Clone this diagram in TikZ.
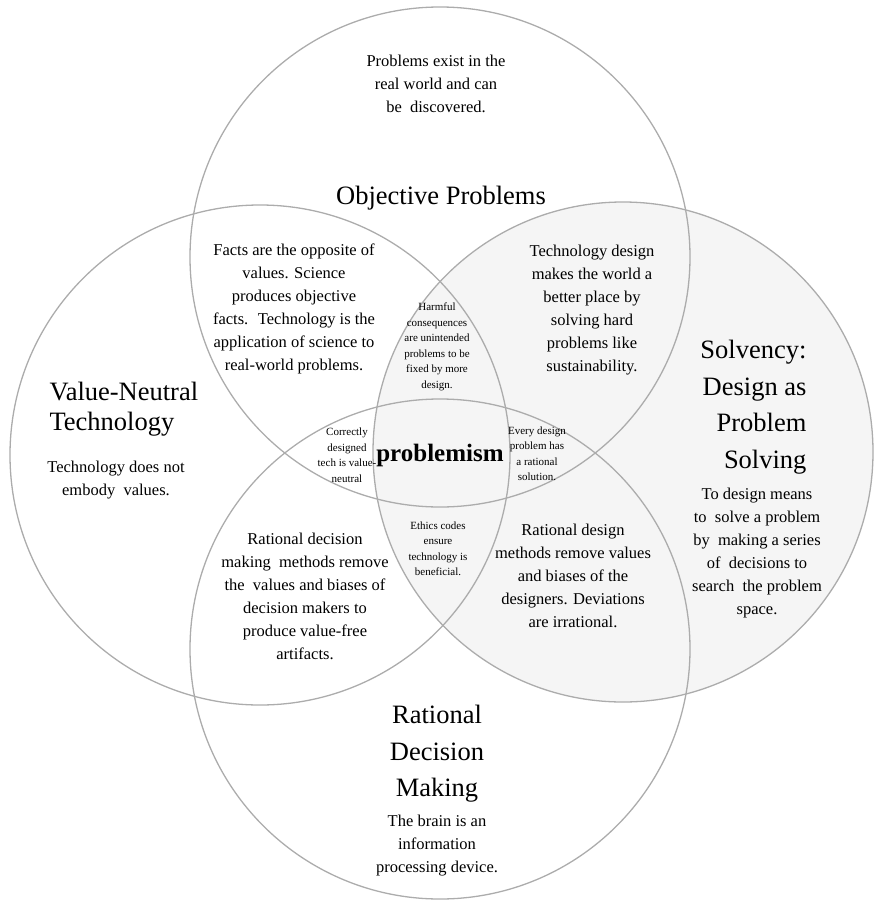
\documentclass[tikz,border=0pt]{standalone}
\usepackage{fontspec}
\setmainfont{Liberation Serif}

\begin{document}
\begin{tikzpicture}[x = 1pt, y = -1pt,
		ring/.style = {circle, draw = gray!65, line width = 1.3pt,
		minimum size = 500pt, inner sep = 0pt},
		shaded/.style = {ring, fill = black!4},
		body/.style = {align = center, font = \fontsize{16.5}{23}\selectfont},
		small/.style = {align = center, font = \fontsize{11}{15.5}\selectfont},
		title/.style = {align = center, font = \fontsize{26.5}{36.5}\selectfont},
		core/.style = {font = \bfseries\fontsize{25}{30}\selectfont, inner sep = 0pt}]

	\useasboundingbox (0,0) rectangle (890,900);

	% the four sets
	\node [shaded] (solv) at (623,452) {};
	\node [ring] (obj) at (440,257) {};
	\node [ring] (vnt) at (260,455) {};
	\node [ring] (rdm) at (440,649) {};

	% top set
	\node [body] (obj_txt) at (436,84) {Problems exist in the\\ real world and can\\ be~ discovered.};
	\node [title] (obj_ttl) at (441,198) {Objective Problems};

	% left set
	\node [title, align = left, anchor = west, font = \fontsize{26.5}{30}\selectfont]
		(vnt_ttl) at (46,409) {Value-Neutral\\ Technology};
	\node [body] (vnt_txt) at (116,480) {Technology does not\\ embody~ values.};

	% right set
	\node [title, align = right, anchor = east] (solv_ttl) at (810,407)
		{Solvency:\\ Design as\\ Problem\\ Solving};
	\node [body] (solv_txt) at (757,553) {To design means\\ to~ solve a problem\\
		by~ making a series\\ of~ decisions to\\ search~ the problem\\ space.};

	% bottom set
	\node [title] (rdm_ttl) at (437,754) {Rational\\ Decision\\ Making};
	\node [body] (rdm_txt) at (437,846) {The brain is an\\ information\\ processing device.};

	% overlaps
	\node [body] (facts) at (294,309) {Facts are the opposite of\\ values. Science\\
		produces objective\\ facts.~ Technology is the\\ application of science to\\
		real-world problems.};
	\node [body] (better) at (592,310) {Technology design\\ makes the world a\\
		better place by\\ solving hard\\ problems like\\ sustainability.};
	\node [body] (methods) at (305,596) {Rational decision\\ making~ methods remove\\
		the~ values and biases of\\ decision makers to\\ produce value-free\\ artifacts.};
	\node [body] (rdesign) at (573,576) {Rational design\\ methods remove values\\
		and biases of the\\ designers. Deviations\\ are irrational.};
	\node [small] (harm) at (437,347) {Harmful\\ consequences\\ are unintended\\
		problems to be\\ fixed by more\\ design.};
	\node [small] (correct) at (347,455) {Correctly\\ designed\\ tech is value-\\ neutral};
	\node [small] (every) at (537,454) {Every design\\ problem has\\ a rational\\ solution.};
	\node [small] (ethics) at (438,549) {Ethics codes\\ ensure\\ technology is\\ beneficial.};
	\node [core] (core) at (440,455) {problemism};
\end{tikzpicture}
\end{document}
